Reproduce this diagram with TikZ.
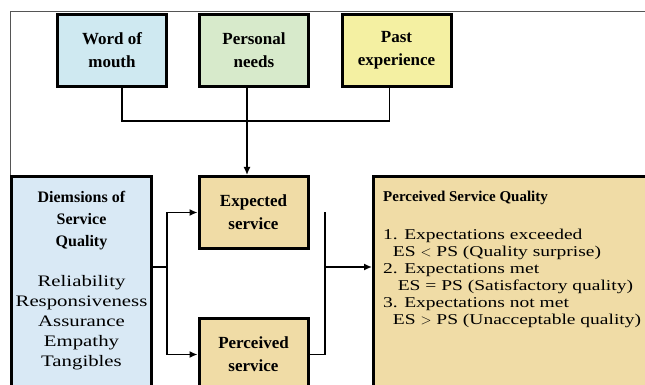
\documentclass[tikz,border=0pt]{standalone}
\usepackage{fontspec}
\setmainfont{Liberation Serif}
\newfontfamily\widefont[FakeStretch=1.3]{Liberation Serif}
\usetikzlibrary{arrows.meta}
\tikzset{>={Latex[width=7pt,length=8pt]}}
\definecolor{mouthblue}{HTML}{CFE9F1}
\definecolor{needsgreen}{HTML}{D7EACB}
\definecolor{pastyellow}{HTML}{F4F0A2}
\definecolor{dimsblue}{HTML}{D9E9F5}
\definecolor{paper}{HTML}{F0DCA6}
\definecolor{framegray}{HTML}{555555}

\begin{document}
\begin{tikzpicture}[x=1pt,y=1pt]
      \tikzstyle{topbox} = [draw=black, line width=3pt, minimum width=109pt, minimum height=72pt, inner sep=0pt, align=center, font=\fontsize{17}{23}\selectfont\bfseries]
      \tikzstyle{tanbox} = [topbox, fill=paper]
      \tikzstyle{bigbox} = [draw=black, line width=3pt, inner sep=0pt]
      \tikzstyle{conn} = [line width=1.5pt]

      \clip (0,0) rectangle (645,385);
      \fill[white] (0,0) rectangle (645,385);
      \draw[framegray, line width=1pt] (10,0) -- (10,373) -- (645,373);

      \node[topbox, fill=mouthblue] (mouth) at (112,334.5) {Word of\\mouth};
      \node[topbox, fill=needsgreen] (needs) at (254,334.5) {Personal\\needs};
      \node[topbox, fill=pastyellow] (past) at (396.5,334.5) {Past\\experience};

      \node[tanbox] (expd) at (253.5,172.5) {Expected\\service};
      \node[tanbox] (perc) at (253.5,30.5) {Perceived\\service};

      \node[bigbox, fill=dimsblue, minimum width=140pt, minimum height=222pt] (dims) at (81.5,97.5) {};
      \node[bigbox, fill=paper, minimum width=285pt, minimum height=222pt] (psq) at (516,97.5) {};

      \node[anchor=north, align=center, inner sep=0pt, font=\fontsize{16}{22}\selectfont] (dimstxt) at (81.5,194)
        {\textbf{Diemsions of}\\ \textbf{Service}\\ \textbf{Quality}\\[18pt]
         {\widefont Reliability}\\[-2pt] {\widefont Responsiveness}\\[-2pt] {\widefont Assurance}\\[-2pt]
         {\widefont Empathy}\\[-2pt] {\widefont Tangibles}};
      \node[anchor=north west, align=left, inner sep=0pt, font=\fontsize{15}{17}\selectfont] (psqtxt) at (383,194)
        {\textbf{Perceived Service Quality}\\[21pt]
         {\widefont 1. Expectations exceeded}\\
         {\widefont\ \ ES $<$ PS (Quality surprise)}\\
         {\widefont 2. Expectations met}\\
         {\widefont\ \ \ ES = PS (Satisfactory quality)}\\
         {\widefont 3. Expectations not met}\\
         {\widefont\ \ ES $>$ PS (Unacceptable quality)}};

      \coordinate (mouthfoot) at ([xshift=10pt]mouth.south);
      \coordinate (needsfoot) at ([xshift=-7pt]needs.south);
      \coordinate (pastfoot) at ([xshift=-7pt]past.south);
      \coordinate (hub) at (247,264);
      \coordinate (lsplit) at (167,118);
      \coordinate (rsplit) at (325,118);

      \draw[conn] (mouthfoot) |- (hub);
      \draw[conn] (pastfoot) |- (hub);
      \draw[conn,->] (needsfoot) -- (needsfoot |- expd.north);

      \draw[conn] (dims.east |- lsplit) -- (lsplit);
      \draw[conn,->] (lsplit) |- (expd.west);
      \draw[conn,->] (lsplit) |- (perc.west);

      \draw[conn] (perc.east) -| (rsplit |- expd.east);
      \draw[conn,->] (rsplit) -- (rsplit -| psq.west);
\end{tikzpicture}
\end{document}
